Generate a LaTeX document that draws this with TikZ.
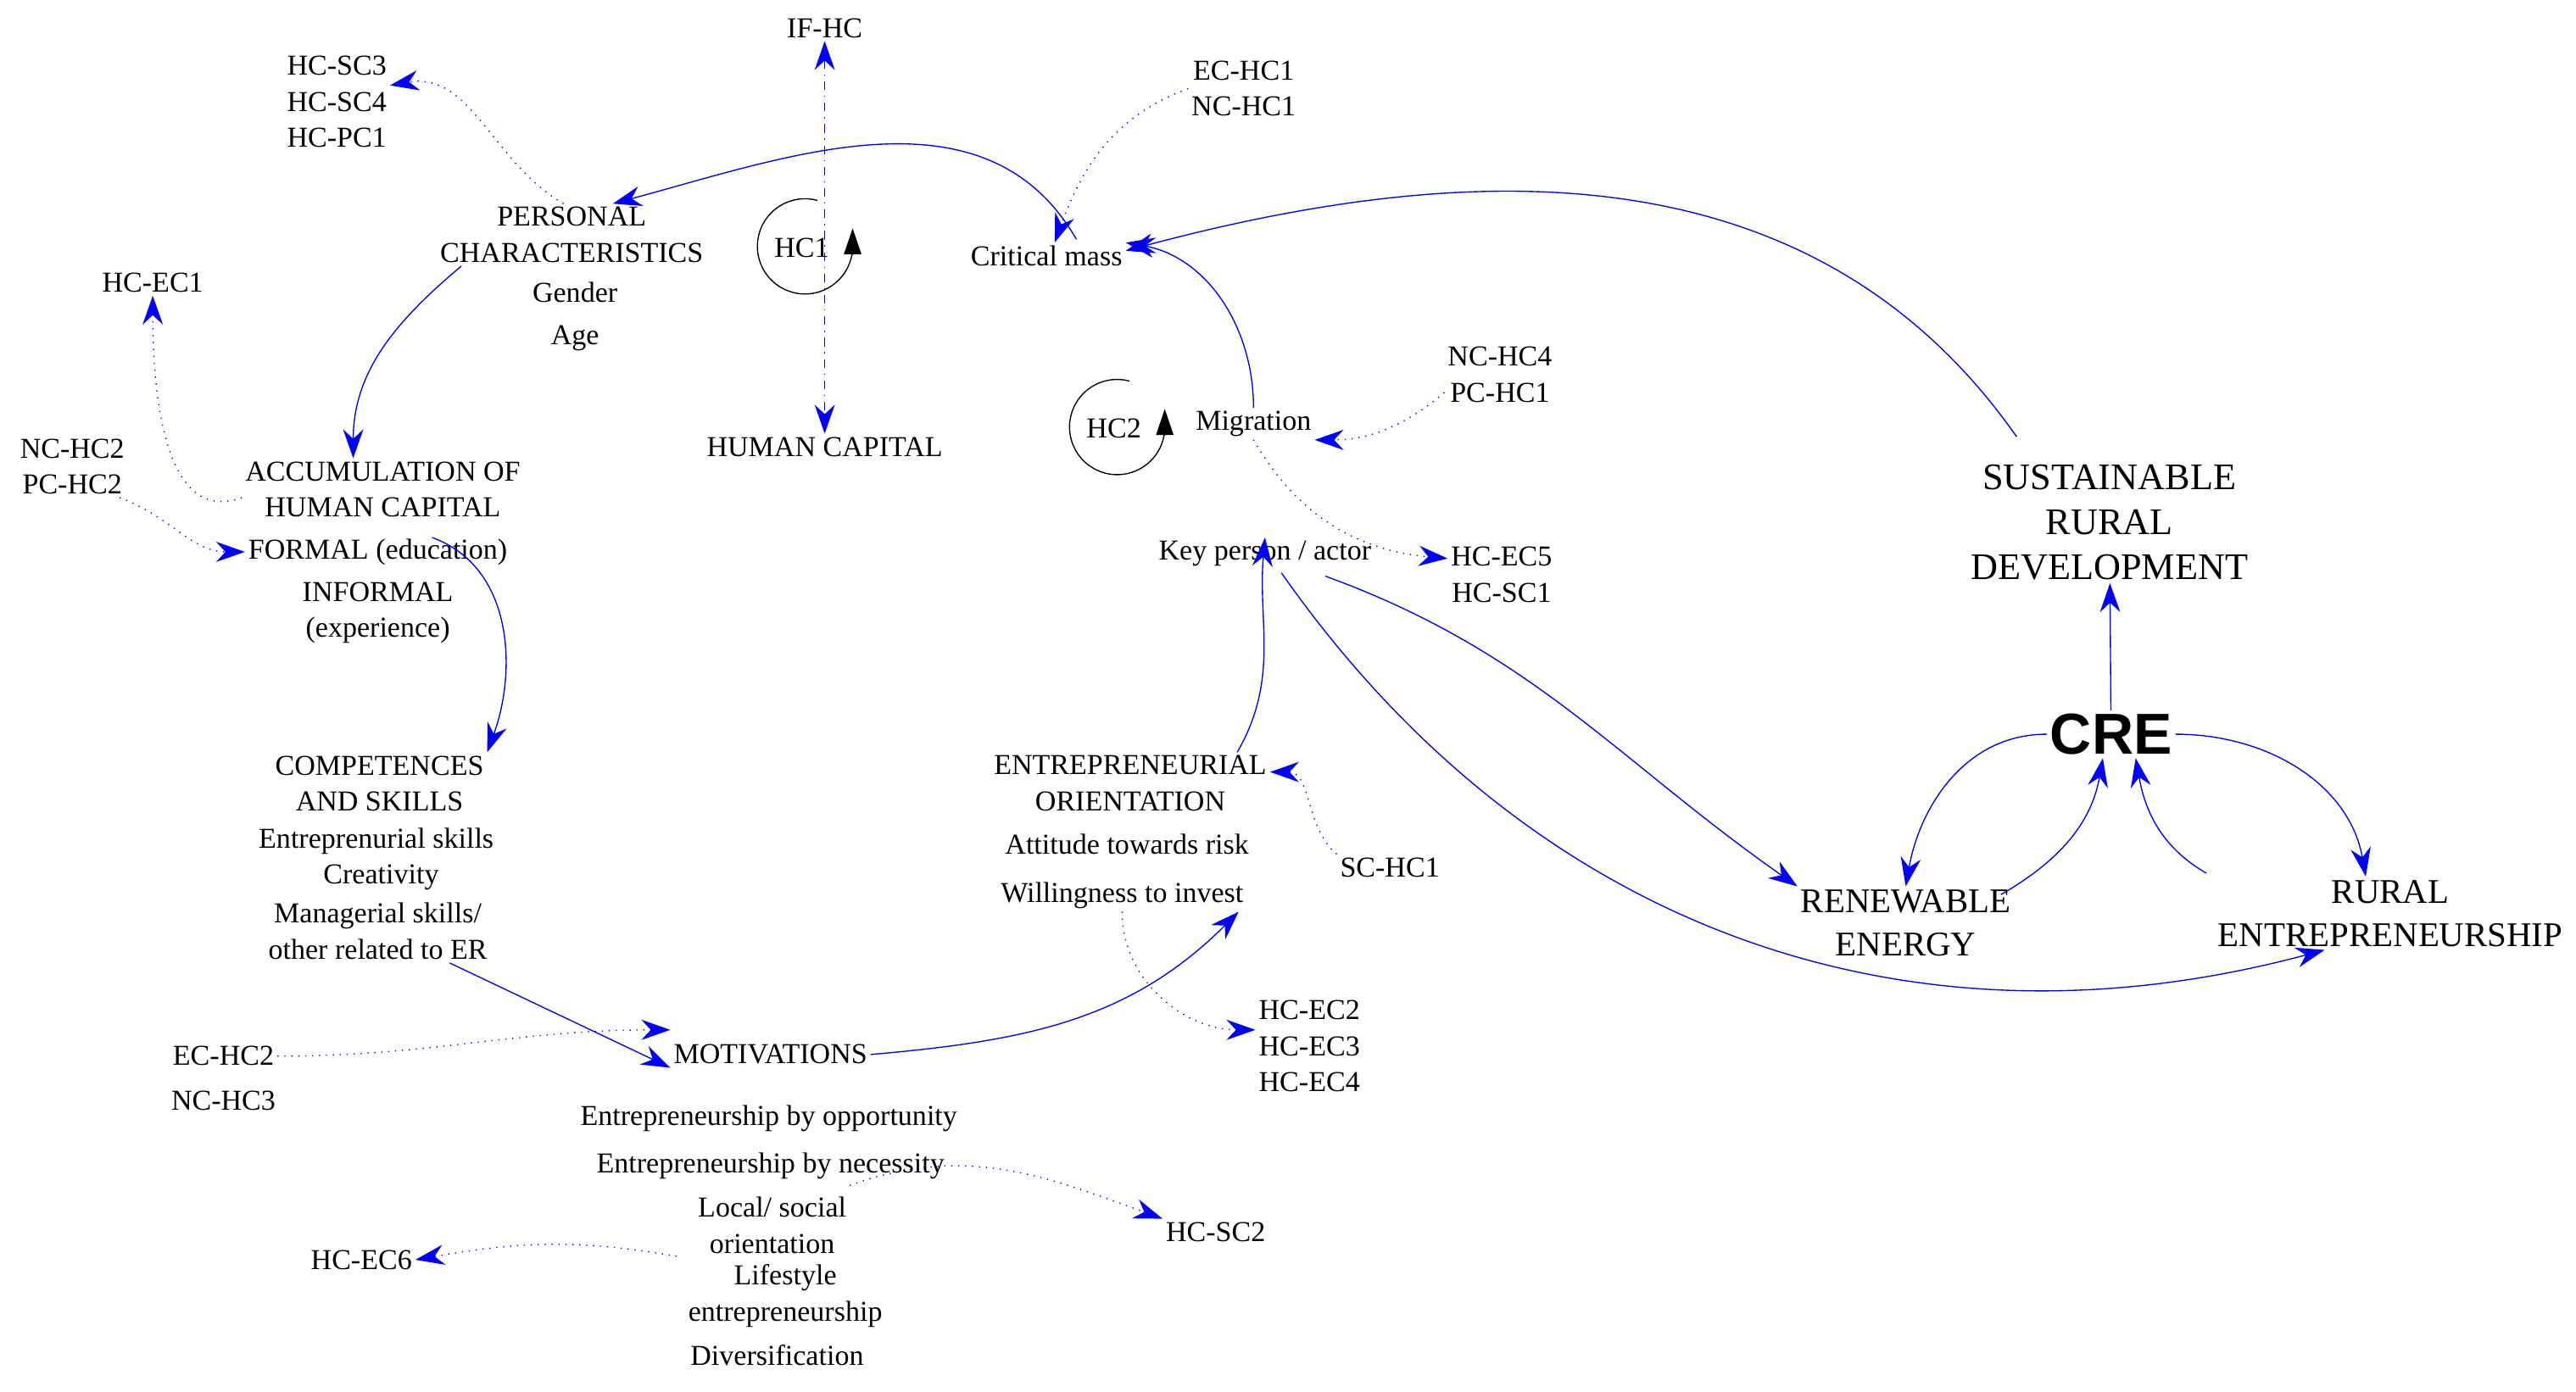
\documentclass[tikz,border=0pt]{standalone}
\usepackage{fontspec}
\setmainfont{Liberation Serif}
\newfontfamily\sansf{Liberation Sans}
\usetikzlibrary{arrows.meta}
\definecolor{ab}{RGB}{0,0,255}
\begin{document}
\begin{tikzpicture}[x=0.02cm,y=-0.02cm,
 t/.style={font=\fontsize{10}{12.5}\selectfont,align=center,inner sep=1pt},
 big/.style={font=\fontsize{13}{15.5}\selectfont,align=center,inner sep=1pt},
 ar/.style={ab,thin,-{Stealth[length=10pt,width=7pt]}},
 dar/.style={ab,thin,dotted,-{Stealth[length=10pt,width=7pt]}}]
\useasboundingbox (0,0) rectangle (1568,847);
\node[t] (ifhc) at (502,17) {IF-HC};
\node[t] (hcsc3) at (205,62) {HC-SC3\\HC-SC4\\HC-PC1};
\node[t] (echc1) at (757,54) {EC-HC1\\NC-HC1};
\node[t] (pers) at (348,143) {PERSONAL\\CHARACTERISTICS};
\node[t] (gender) at (350,178) {Gender};
\node[t] (age) at (350,206) {Age};
\node[t] (crit) at (637,156) {Critical mass};
\node[t] (hcec1) at (93,172) {HC-EC1};
\node[t] (hum) at (502,272) {HUMAN CAPITAL};
\node[t] (nchc4) at (913,228) {NC-HC4\\PC-HC1};
\node[t] (mig) at (763,258) {Migration};
\node[t] (nchc2) at (44,284) {NC-HC2\\PC-HC2};
\node[t] (acc) at (233,298) {ACCUMULATION OF\\HUMAN CAPITAL};
\node[t] (formal) at (230,336) {FORMAL (education)};
\node[t] (informal) at (230,373) {INFORMAL\\(experience)};
\node[big] (srd) at (1284,318) {SUSTAINABLE\\RURAL\\DEVELOPMENT};
\node[t] (key) at (770,337) {Key person / actor};
\node[t] (hcec5) at (914,350) {HC-EC5\\HC-SC1};
\node[font=\sansf\bfseries\fontsize{20}{22}\selectfont,inner sep=1pt] (cre) at (1285,447) {CRE};
\node[t] (comp) at (231,477) {COMPETENCES\\AND SKILLS};
\node[t] (es) at (229,512) {Entreprenurial skills};
\node[t] (cr) at (232,534) {Creativity};
\node[t] (man) at (230,567) {Managerial skills/\\other related to ER};
\node[t] (eo) at (688,477) {ENTREPRENEURIAL\\ORIENTATION};
\node[t] (att) at (686,514) {Attitude towards risk};
\node[t] (will) at (683,545) {Willingness to invest};
\node[t] (schc1) at (846,528) {SC-HC1};
\node[big,font=\fontsize{12}{15}\selectfont] (re) at (1160,562) {RENEWABLE\\ENERGY};
\node[big,font=\fontsize{12}{15}\selectfont] (rent) at (1455,556) {RURAL\\ENTREPRENEURSHIP};
\node[t] (hcec2) at (797,637) {HC-EC2\\HC-EC3\\HC-EC4};
\node[t] (echc2) at (136,643) {EC-HC2};
\node[t] (nchc3) at (136,670) {NC-HC3};
\node[t] (mot) at (469,642) {MOTIVATIONS};
\node[t] (opp) at (468,681) {Entrepreneurship by opportunity};
\node[t] (nec) at (469,710) {Entrepreneurship by necessity};
\node[t] (loc) at (470,746) {Local/ social\\orientation};
\node[t] (life) at (478,789) {Lifestyle\\entrepreneurship};
\node[t] (div) at (473,825) {Diversification};
\node[t] (hcsc2) at (740,750) {HC-SC2};
\node[t] (hcec6) at (220,767) {HC-EC6};
% loops
\coordinate (c1) at (490,150);
\coordinate (c2) at (680,260);
\node[t] at (488,151) {HC1};
\node[t] at (678,261) {HC2};
\draw[thin] ([shift={(75:0.58cm)}]c1) arc[start angle=75,end angle=355,radius=0.58cm];
\draw[-{Triangle[length=9pt,width=6pt]}] ([shift={(0.58cm,-0.1cm)}]c1) -- ++(0,0.32cm);
\draw[thin] ([shift={(75:0.58cm)}]c2) arc[start angle=75,end angle=355,radius=0.58cm];
\draw[-{Triangle[length=9pt,width=6pt]}] ([shift={(0.58cm,-0.1cm)}]c2) -- ++(0,0.32cm);
% dash-dot
\draw[ab,thin,dash dot,{Stealth[length=10pt,width=7pt]}-{Stealth[length=10pt,width=7pt]}] (ifhc) -- (hum);
% solid
\draw[ar] ([xshift=-0.2cm]crit.north east) ++(-20,-2) to[out=120,in=15] ([xshift=0.5cm]pers.north);
\draw[ar] (pers.south west) ++(15,0) to[out=220,in=90] (acc.north west -| 215,0);
\draw[ar] (informal.north east) ++(-15,-25) to[out=-20,in=70] (comp.north east);
\draw[ar] (man.south east) ++(-25,0) -- (mot.south west);
\draw[ar] (mot.east) to[out=5,in=225] ([xshift=-0.1cm]will.south east);
\draw[ar] (eo.north east) ++(-20,0) to[out=60,in=265] (key.north);
\draw[ar] (mig.north) to[out=90,in=-10] (crit.north east);
\draw[ar] (srd.north west) ++(30,-15) to[out=125,in=15] ([yshift=-0.1cm]crit.north east);
\draw[ar] (key.south east) ++(-30,4) to[out=-20,in=145] (re.north west);
\draw[ar] (key.south) ++(10,2) to[out=-55,in=195] ([xshift=-0.8cm]rent.south);
\draw[ar] (cre) -- (srd);
\draw[ar] (cre.west) to[out=180,in=80] (re.north);
\draw[ar] (re.north east) ++(-8,5) to[out=30,in=260] ([xshift=-0.1cm]cre.south);
\draw[ar] (rent.north west) ++(-5,-2) to[out=150,in=280] ([xshift=0.3cm]cre.south);
\draw[ar] (cre.east) to[out=0,in=100] ([xshift=-0.3cm]rent.north);
% dotted
\draw[dar] (pers.north) ++(-5,0) to[out=150,in=10] ([yshift=0.2cm]hcsc3.east);
\draw[dar] (echc1.west) to[out=200,in=70] ([xshift=0.1cm]crit.north);
\draw[dar] (nchc4.south west) ++(0,-8) to[out=220,in=0] (mig.south east);
\draw[dar] (mig.south) to[out=-60,in=175] ([yshift=0.2cm]hcec5.west);
\draw[dar] (acc.west) ++(0,5) to[out=200,in=270] (hcec1.south);
\draw[dar] (nchc2.south east) ++(-5,0) to[out=-20,in=180] (formal.west);
\draw[dar] (schc1.north west) to[out=140,in=0] (eo.east |- 0,470);
\draw[dar] (will.south) to[out=-90,in=180] ([yshift=0.2cm]hcec2.west);
\draw[dar] (echc2.east) to[out=0,in=180] ([yshift=0.3cm]mot.west);
\draw[dar] (loc.north east) ++(0,-5) to[out=20,in=160] (hcsc2.north west);
\draw[dar] (life.north west) ++(-5,-3) to[out=170,in=10] (hcec6.east);
\end{tikzpicture}
\end{document}
